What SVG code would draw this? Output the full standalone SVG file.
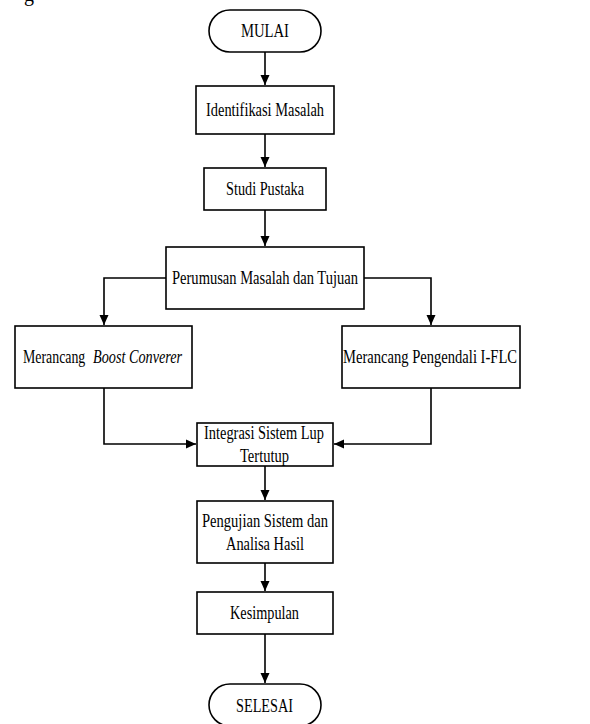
<svg xmlns="http://www.w3.org/2000/svg" width="590" height="724" viewBox="0 0 590 724">
<style>
.box{fill:#fff;stroke:#000;stroke-width:1.6}
.t{font-family:"Liberation Serif","Times New Roman",serif;font-size:18px;fill:#000;text-anchor:middle}
.s{text-anchor:start}
.c{fill:none;stroke:#000;stroke-width:1.6}
</style>
<defs>
<marker id="ah" markerWidth="11" markerHeight="10" refX="10" refY="5" orient="auto" markerUnits="userSpaceOnUse">
<path d="M0,0.5 L10,5 L0,9.5 Z" fill="#000"/>
</marker>
</defs>
<rect width="590" height="724" fill="#fff"/>
<text x="24" y="1" style="font-family:'Liberation Serif',serif;font-size:20px">g</text>
<g id="connectors">
<path class="c" d="M265,52 V85" marker-end="url(#ah)"/>
<path class="c" d="M265,134 V167" marker-end="url(#ah)"/>
<path class="c" d="M265,210 V246" marker-end="url(#ah)"/>
<path class="c" d="M166,278 H104 V325" marker-end="url(#ah)"/>
<path class="c" d="M364,278 H431 V325" marker-end="url(#ah)"/>
<path class="c" d="M104,388 V444 H196" marker-end="url(#ah)"/>
<path class="c" d="M431,388 V444 H334" marker-end="url(#ah)"/>
<path class="c" d="M265,466 V500" marker-end="url(#ah)"/>
<path class="c" d="M265,563 V591" marker-end="url(#ah)"/>
<path class="c" d="M265,634 V683" marker-end="url(#ah)"/>
</g>
<g id="mulai">
<rect class="box" x="209" y="10" width="112" height="42" rx="21"/>
<text class="t" x="265" y="37" textLength="48" lengthAdjust="spacingAndGlyphs">MULAI</text>
</g>
<g id="identifikasi">
<rect class="box" x="196" y="86" width="138" height="48"/>
<text class="t" x="265" y="116" textLength="118" lengthAdjust="spacingAndGlyphs">Identifikasi Masalah</text>
</g>
<g id="studi">
<rect class="box" x="204" y="168" width="122" height="42"/>
<text class="t" x="265" y="195" textLength="78" lengthAdjust="spacingAndGlyphs">Studi Pustaka</text>
</g>
<g id="perumusan">
<rect class="box" x="166" y="247" width="198" height="62"/>
<text class="t" x="265" y="284" textLength="186" lengthAdjust="spacingAndGlyphs">Perumusan Masalah dan Tujuan</text>
</g>
<g id="boost">
<rect class="box" x="15" y="326" width="177" height="62"/>
<text class="t s" transform="translate(23,363) scale(0.77,1)" x="0" y="0">Merancang</text>
<text class="t s" transform="translate(93,363) scale(0.79,1)" x="0" y="0" font-style="italic">Boost Converer</text>
</g>
<g id="iflc">
<rect class="box" x="342" y="326" width="178" height="62"/>
<text class="t" x="430" y="363" textLength="174" lengthAdjust="spacingAndGlyphs">Merancang Pengendali I-FLC</text>
</g>
<g id="integrasi">
<rect class="box" x="197" y="423" width="136" height="43"/>
<text class="t" x="264" y="439" textLength="120" lengthAdjust="spacingAndGlyphs">Integrasi Sistem Lup</text>
<text class="t" x="264.5" y="462" textLength="49" lengthAdjust="spacingAndGlyphs">Tertutup</text>
</g>
<g id="pengujian">
<rect class="box" x="197" y="501" width="136" height="62"/>
<text class="t" x="265" y="527" textLength="126" lengthAdjust="spacingAndGlyphs">Pengujian Sistem dan</text>
<text class="t" x="265" y="550" textLength="78" lengthAdjust="spacingAndGlyphs">Analisa Hasil</text>
</g>
<g id="kesimpulan">
<rect class="box" x="197" y="592" width="136" height="42"/>
<text class="t" x="264.5" y="619" textLength="69" lengthAdjust="spacingAndGlyphs">Kesimpulan</text>
</g>
<g id="selesai">
<rect class="box" x="209" y="684" width="112" height="42" rx="21"/>
<text class="t" x="264.5" y="712" textLength="57" lengthAdjust="spacingAndGlyphs">SELESAI</text>
</g>
</svg>
